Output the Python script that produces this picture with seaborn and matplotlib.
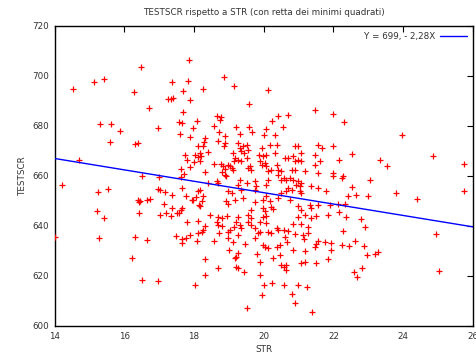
import matplotlib
matplotlib.use("Agg")
import matplotlib.pyplot as plt
import seaborn as sns
import pandas as pd

# Student-teacher ratio (STR) values
str_vals = [
    17.86, 16.47, 14.54, 15.14, 15.42, 17.37, 17.84, 16.27, 17.69, 17.26, 17.39, 17.34, 17.88, 16.70, 17.69,
    17.58, 17.67, 18.09, 15.30, 15.61, 15.88, 16.97, 17.98, 17.60, 17.90, 15.59, 16.31, 16.40, 18.12, 17.73,
    18.03, 17.79, 18.00, 14.71, 18.11, 17.88, 17.62, 16.51, 16.99, 17.71, 17.64,
    14.21, 15.25, 15.52, 16.40, 16.45, 16.43, 16.64, 16.74, 16.96, 17.02, 17.17, 17.37, 17.66, 17.76, 17.15,
    17.36, 17.67, 17.64, 17.98, 18.07, 18.14, 15.23, 16.43, 17.19, 17.02, 17.34, 17.52, 17.58, 15.43, 17.80,
    18.12, 14.01, 15.27, 16.31, 16.64, 17.48, 17.67, 17.76, 17.67, 17.88, 18.12, 18.09, 16.23, 16.52, 16.97, 18.03,
    21.99, 22.30, 23.98, 21.99, 22.53, 22.16, 23.35, 23.53, 24.86, 25.76, 23.06,
    22.27, 22.26, 22.53, 22.43, 22.64, 23.00, 23.80, 24.39, 25.76, 22.13, 22.32, 22.16, 22.37, 22.80, 22.90,
    22.27, 24.93, 21.94, 21.94, 22.25, 22.45, 22.61, 22.87, 22.97, 23.18, 23.29, 22.82, 22.59, 22.69, 25.02,
    18.86, 18.26, 19.14, 20.13, 19.57, 21.46, 18.65, 18.77, 18.74, 20.40, 20.70, 20.25, 20.54, 18.57, 19.20,
    19.58, 19.67, 20.06, 20.00, 20.32, 18.72, 18.90, 19.33, 18.31,
    18.29, 18.26, 18.69, 18.90, 18.86, 18.17, 18.20, 18.39, 18.17, 18.58, 18.77, 18.84, 18.90, 19.12, 19.15,
    19.08, 19.12, 18.98, 19.03, 18.31, 18.79, 18.88, 18.93, 18.41, 18.65, 18.69, 18.17, 18.12, 18.98, 19.08,
    17.93, 18.26, 18.22, 18.17, 18.93, 18.98, 19.17, 18.46, 18.69, 18.79, 18.96,
    19.25, 19.31, 19.41, 19.36, 19.44, 19.55, 19.51, 19.17, 19.25, 19.34, 19.51, 19.54, 19.60, 19.65, 19.94,
    19.86, 19.98, 20.08, 20.17, 20.37, 20.32, 19.89, 19.94, 20.03, 20.08, 20.13, 20.22, 20.37, 20.41, 20.51,
    20.41, 19.31, 19.27, 19.36, 19.51, 19.74, 19.79, 19.74, 20.13, 20.08, 20.51, 20.58, 20.60, 19.41, 19.74,
    19.98, 20.08, 20.17, 20.41, 20.51, 19.98, 20.03, 20.22, 20.27, 19.65, 19.55, 19.65, 19.98, 20.08, 19.27,
    20.89, 20.97, 20.70, 20.84, 20.98, 20.89, 21.06, 21.08, 21.56, 21.66, 21.46, 21.61, 21.46, 20.80, 20.89,
    21.18, 21.56, 21.99, 21.99, 20.75, 20.84, 20.65, 20.98, 20.94, 21.03, 21.08, 20.70, 20.80, 21.37, 21.56,
    21.80, 21.03, 21.08, 20.65, 20.75, 20.98, 21.08, 21.32, 21.37, 21.56, 21.89, 21.18, 20.98, 21.37, 21.51, 21.84,
    18.31, 18.65, 18.69, 18.79, 19.15, 18.22, 18.26, 18.71, 18.98, 19.03, 18.98, 18.58, 19.12, 19.00, 19.17,
    18.33, 18.68, 18.33,
    19.22, 19.31, 19.36, 19.27, 19.55, 19.65, 19.89, 20.08, 19.74, 19.89, 19.84, 20.13, 20.22, 20.37, 20.41,
    20.58, 20.60, 19.46, 19.76, 19.98, 20.05, 20.13, 20.37, 20.46, 19.27, 19.22, 19.82, 20.27, 20.46, 19.89,
    19.27, 19.22, 19.44, 20.51, 20.58, 19.89, 20.24, 20.01, 20.58, 19.94, 19.51,
    20.84, 21.06, 21.27, 20.70, 20.89, 21.13, 21.16, 21.27, 20.68, 21.56, 21.51, 21.75, 21.46, 20.84, 21.18,
    21.84, 21.06, 21.18, 21.51, 20.65, 20.65, 20.98, 21.23, 20.80, 20.89, 21.40,
]

# Test score (TESTSCR) values
testscr_vals = [
    706.4, 703.7, 694.9, 697.7, 698.8, 697.7, 698.0, 693.5, 693.9, 690.8, 691.3, 690.8, 690.3, 687.2, 685.6,
    681.6, 681.3, 682.1, 680.9, 680.9, 678.0, 679.1, 679.1, 676.8, 675.5, 673.6, 672.8, 673.2, 672.1, 668.5,
    668.5, 666.4, 665.7, 666.5, 667.7, 663.6, 662.8, 659.9, 659.7, 660.7, 659.7,
    656.3, 653.6, 654.8, 650.5, 650.0, 649.5, 650.3, 650.9, 654.7, 654.4, 653.6, 652.3, 655.2, 652.1, 648.7,
    647.3, 647.1, 646.4, 650.4, 651.7, 648.4, 646.1, 645.3, 645.3, 644.3, 644.0, 645.3, 645.1, 643.3, 641.7,
    642.0, 635.5, 635.2, 635.6, 634.4, 636.0, 634.8, 635.1, 633.1, 636.4, 637.3, 634.0, 627.1, 618.4, 618.0, 616.4,
    684.7, 681.7, 676.4, 672.1, 668.9, 666.3, 666.3, 664.1, 667.9, 664.7, 658.3,
    660.0, 659.1, 655.7, 652.0, 652.3, 652.0, 653.3, 650.9, 654.0, 648.8, 648.8, 645.7, 643.5, 642.9, 639.6,
    638.1, 636.9, 633.1, 630.4, 632.3, 631.9, 634.0, 631.9, 628.3, 628.7, 629.7, 623.2, 621.5, 619.7, 622.1,
    699.7, 694.8, 696.0, 694.3, 688.7, 686.3, 684.1, 683.5, 682.4, 684.1, 684.4, 682.1, 679.7, 680.1, 679.5,
    679.5, 677.5, 678.7, 676.4, 676.4, 677.7, 675.9, 676.9, 675.1,
    673.6, 671.9, 673.9, 673.2, 671.9, 669.2, 667.9, 669.6, 665.9, 664.8, 664.8, 663.9, 662.9, 669.2, 666.1,
    663.2, 662.5, 664.5, 663.9, 661.6, 661.6, 660.5, 659.9, 657.2, 657.9, 657.2, 654.5, 653.9, 653.9, 653.2,
    650.5, 651.9, 650.1, 647.9, 650.1, 648.8, 650.5, 644.5, 643.5, 643.2, 643.9,
    673.2, 671.2, 671.9, 669.9, 669.2, 670.5, 672.5, 667.2, 666.5, 665.9, 667.2, 663.2, 663.9, 662.5, 671.2,
    668.5, 667.9, 668.5, 672.5, 672.5, 669.2, 665.9, 664.5, 665.2, 663.9, 661.9, 662.5, 664.5, 662.5, 661.9,
    660.5, 658.5, 656.5, 654.5, 657.2, 657.9, 655.9, 654.5, 658.5, 656.5, 658.5, 659.2, 667.2, 651.2, 649.6,
    650.5, 651.9, 649.9, 651.2, 653.2, 647.2, 646.1, 647.5, 646.8, 646.5, 644.3, 643.2, 643.5, 643.9, 643.5,
    671.9, 671.9, 667.2, 667.9, 666.5, 665.9, 666.1, 669.2, 672.5, 671.2, 668.5, 665.9, 664.5, 662.5, 662.5,
    661.9, 661.2, 661.2, 659.9, 659.2, 658.5, 658.5, 657.9, 656.5, 655.9, 657.2, 655.2, 654.5, 655.9, 655.2,
    653.9, 653.9, 653.2, 653.9, 650.5, 647.9, 646.5, 648.5, 647.2, 648.5, 648.5, 644.3, 643.5, 643.2, 643.9, 644.3,
    640.0, 641.7, 640.4, 640.0, 639.7, 637.7, 638.4, 637.3, 637.7, 638.4, 635.1, 634.1, 633.7, 630.4, 627.1,
    626.7, 623.1, 620.4,
    641.7, 640.4, 639.1, 636.4, 641.7, 640.4, 641.7, 641.1, 639.1, 637.7, 637.1, 637.7, 637.1, 639.1, 638.4,
    638.4, 635.7, 632.8, 635.1, 632.4, 631.5, 631.1, 631.7, 632.4, 629.1, 627.7, 628.7, 627.1, 628.4, 625.7,
    623.1, 623.7, 621.7, 624.4, 623.7, 620.4, 617.3, 616.4, 616.4, 612.4, 607.1,
    640.8, 640.8, 639.7, 638.1, 636.8, 636.4, 634.7, 637.1, 633.7, 634.1, 632.8, 633.7, 631.5, 630.4, 630.1,
    626.7, 625.1, 625.7, 625.3, 624.4, 622.4, 616.4, 615.7, 612.8, 609.3, 605.6,
]

# Least squares line shown in the legend
intercept = 698.93
slope = -2.2798
legend_label = "Y = 699, - 2,28X"

x_ticks = [14, 16, 18, 20, 22, 24, 26]
y_ticks = [600, 620, 640, 660, 680, 700, 720]
x_range = [14, 26]

df = pd.DataFrame({"STR": str_vals, "TESTSCR": testscr_vals})
line_df = pd.DataFrame({"STR": x_range,
                        "TESTSCR": [intercept + slope * v for v in x_range]})

sns.set_theme(style="white")
plt.rcParams["font.family"] = ["DejaVu Sans"]
text_col = "#333333"

fig = plt.figure(figsize=(4.77, 3.55), dpi=100)
ax = fig.add_axes([0.1143, 0.0817, 0.8770, 0.8451])

sns.scatterplot(data=df, x="STR", y="TESTSCR", marker="+", color="#ff0000",
                s=22, linewidth=0.9, ax=ax, legend=False, zorder=3)
sns.lineplot(data=line_df, x="STR", y="TESTSCR", color="#0000ff", linewidth=1.0,
             ax=ax, label=legend_label, zorder=4)

ax.set_xlim(14, 26)
ax.set_ylim(600, 720)
ax.set_xticks(x_ticks)
ax.set_yticks(y_ticks)
ax.tick_params(direction="in", length=4, width=0.8, top=True, right=True,
               labelsize=6.3, colors="black", labelcolor=text_col, pad=4)
for sp in ax.spines.values():
    sp.set_visible(True)
    sp.set_color("black")
    sp.set_linewidth(1.0)

ax.set_xlabel("STR", fontsize=6.3, labelpad=3, color=text_col)
ax.set_ylabel("TESTSCR", fontsize=6.3, labelpad=4, color=text_col)
ax.set_title("TESTSCR rispetto a STR (con retta dei minimi quadrati)", fontsize=6.3,
             pad=8, color=text_col)

leg = ax.legend(loc="upper right", frameon=False, markerfirst=False, fontsize=6.3,
                handlelength=3.0, borderaxespad=0.3, handletextpad=0.6)
for t in leg.get_texts():
    t.set_color(text_col)

fig.savefig("out.png", dpi=100)
